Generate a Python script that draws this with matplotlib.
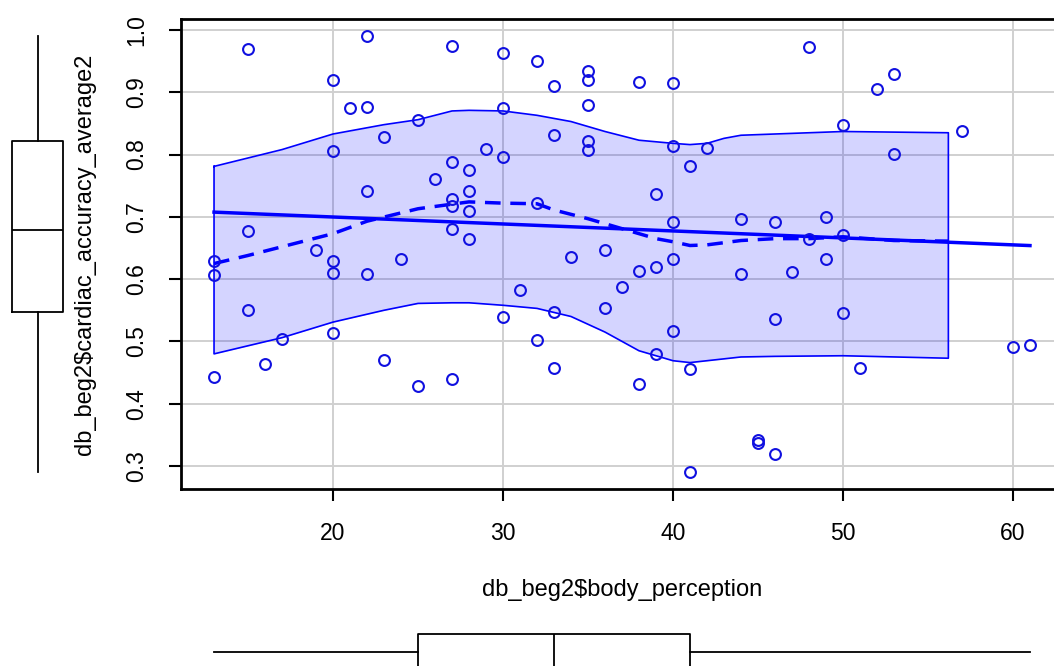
import numpy as np
import matplotlib
matplotlib.use("Agg")
import matplotlib.pyplot as plt

plt.rcParams['font.family'] = ['Liberation Sans', 'DejaVu Sans']

# body_perception (x) and cardiac_accuracy_average2 (y)
body_perception = np.array([
    13, 13, 13, 15, 15, 15, 16, 17, 19, 20, 20, 20, 20, 20, 21, 22, 22, 22, 22, 23,
    23, 24, 25, 25, 26, 27, 27, 27, 27, 27, 27, 28, 28, 28, 28, 29, 30, 30, 30, 30,
    31, 32, 32, 32, 33, 33, 33, 33, 34, 35, 35, 35, 35, 35, 36, 36, 37, 38, 38, 38,
    39, 39, 39, 40, 40, 40, 40, 40, 41, 41, 41, 42, 44, 44, 45, 45, 46, 46, 46, 47,
    48, 48, 49, 49, 50, 50, 50, 51, 52, 53, 53, 57, 60, 61])
cardiac_accuracy = np.array([
    0.629, 0.607, 0.443, 0.970, 0.677, 0.550, 0.464, 0.504, 0.646, 0.920,
    0.806, 0.629, 0.610, 0.514, 0.875, 0.990, 0.877, 0.742, 0.609, 0.828,
    0.470, 0.632, 0.856, 0.429, 0.761, 0.975, 0.788, 0.729, 0.717, 0.680,
    0.439, 0.775, 0.741, 0.709, 0.664, 0.809, 0.963, 0.874, 0.796, 0.539,
    0.582, 0.950, 0.722, 0.503, 0.910, 0.832, 0.547, 0.457, 0.636, 0.934,
    0.919, 0.879, 0.822, 0.807, 0.646, 0.554, 0.587, 0.917, 0.613, 0.431,
    0.736, 0.619, 0.480, 0.915, 0.813, 0.691, 0.632, 0.517, 0.782, 0.455,
    0.291, 0.810, 0.697, 0.609, 0.342, 0.337, 0.692, 0.536, 0.319, 0.612,
    0.973, 0.664, 0.699, 0.632, 0.848, 0.671, 0.546, 0.458, 0.906, 0.929,
    0.801, 0.838, 0.491, 0.495])

# loess smooth and spread band
smooth_x = [13, 15, 20, 22, 25, 28, 30, 32, 33, 35, 37, 39, 40, 41, 42, 44, 46, 48, 50, 53, 56.2]
smooth_y = [0.625, 0.638, 0.673, 0.693, 0.713, 0.724, 0.722, 0.721, 0.711, 0.697, 0.681,
            0.665, 0.660, 0.654, 0.655, 0.662, 0.665, 0.665, 0.668, 0.662, 0.661]
band_x = [13, 17, 20, 23, 25, 27, 28, 30, 32, 34, 36, 38, 40, 41, 42, 43, 44, 46, 50, 56.2]
band_upper = [0.781, 0.808, 0.833, 0.848, 0.856, 0.870, 0.871, 0.870, 0.863, 0.853, 0.837,
              0.823, 0.818, 0.816, 0.818, 0.826, 0.831, 0.833, 0.837, 0.835]
band_lower = [0.480, 0.506, 0.531, 0.550, 0.561, 0.562, 0.562, 0.558, 0.553, 0.540, 0.515,
              0.485, 0.469, 0.466, 0.469, 0.472, 0.475, 0.476, 0.477, 0.473]

x_ticks = [20, 30, 40, 50, 60]
y_ticks = [0.3, 0.4, 0.5, 0.6, 0.7, 0.8, 0.9, 1.0]


def fivenum(v):
    v = np.sort(v)
    n = len(v)
    n4 = np.floor((n + 3) / 2) / 2
    d = np.array([1, n4, (n + 1) / 2, n + 1 - n4, n]) - 1
    return 0.5 * (v[np.floor(d).astype(int)] + v[np.ceil(d).astype(int)])


def box_stats(v):
    lo, q1, med, q3, hi = fivenum(v)
    return [{'whislo': lo, 'q1': q1, 'med': med, 'q3': q3, 'whishi': hi, 'fliers': []}]


W, H = 1054, 666
fig = plt.figure(figsize=(W / 100, H / 100), dpi=100)

xr = body_perception.max() - body_perception.min()
yr = cardiac_accuracy.max() - cardiac_accuracy.min()
xlim = (body_perception.min() - 0.04 * xr, body_perception.max() + 0.04 * xr)
ylim = (cardiac_accuracy.min() - 0.04 * yr, cardiac_accuracy.max() + 0.04 * yr)

left_px, right_px = 181.4, 1062.6
top_px, bottom_px = 18.8, 489.0
ax = fig.add_axes([left_px / W, 1 - bottom_px / H, (right_px - left_px) / W, (bottom_px - top_px) / H])
ax.set_xlim(xlim)
ax.set_ylim(ylim)

ax.grid(True, color='#d0d0d0', lw=1.4)
ax.set_axisbelow(True)

ax.fill_between(band_x, band_lower, band_upper, color='#0000ff', alpha=0.17, lw=0, zorder=2)
band_outline_x = list(band_x) + band_x[::-1] + [band_x[0]]
band_outline_y = list(band_upper) + band_lower[::-1] + [band_upper[0]]
ax.plot(band_outline_x, band_outline_y, color='#0000ff', lw=1.2, zorder=3)

slope, intercept = np.polyfit(body_perception, cardiac_accuracy, 1)
fit_x = np.array([body_perception.min(), body_perception.max()])
ax.plot(fit_x, intercept + slope * fit_x, color='#0000ff', lw=2.5, zorder=4)
ax.plot(smooth_x, smooth_y, color='#0000ff', lw=2.5, ls=(0, (4.5, 2.8)), zorder=4)

ax.plot(body_perception, cardiac_accuracy, 'o', ms=7.8, mfc='none', mec='#1010e0', mew=1.5, zorder=5)

ax.set_xticks(x_ticks)
ax.set_yticks(y_ticks)
ax.set_yticklabels([f'{t:.1f}' for t in y_ticks], rotation=90, va='center')
ax.tick_params(axis='both', direction='out', length=8.6, width=1.5, labelsize=16.5, pad=15)
for side in ['top', 'left', 'bottom']:
    ax.spines[side].set_linewidth(2)
ax.spines['right'].set_visible(False)

ax.set_xlabel('db_beg2$body_perception', fontsize=17)
ax.xaxis.set_label_coords(0.5, -(590 - bottom_px) / (bottom_px - top_px))
ax.xaxis.label.set_va('center')
ax.set_ylabel('db_beg2$cardiac_accuracy_average2', fontsize=17)
ax.yaxis.set_label_coords(-(left_px - 85) / (right_px - left_px), 0.5)
ax.yaxis.label.set_va('center')

# marginal boxplots
box_style = dict(boxprops=dict(color='black', lw=1.3), whiskerprops=dict(color='black', lw=1.3),
                 medianprops=dict(color='black', lw=1.3), showcaps=False)

axl = fig.add_axes([0, 1 - bottom_px / H, 75 / W, (bottom_px - top_px) / H])
axl.set_xlim(0, 75)
axl.set_ylim(ylim)
axl.bxp(box_stats(cardiac_accuracy), positions=[37.7], widths=51, **box_style)
axl.axis('off')

axb = fig.add_axes([left_px / W, 0, (right_px - left_px) / W, 66 / H])
axb.set_xlim(xlim)
axb.set_ylim(0, 66)
axb.bxp(box_stats(body_perception), positions=[14], widths=36, vert=False, **box_style)
axb.axis('off')

fig.savefig('out.png', dpi=100)
